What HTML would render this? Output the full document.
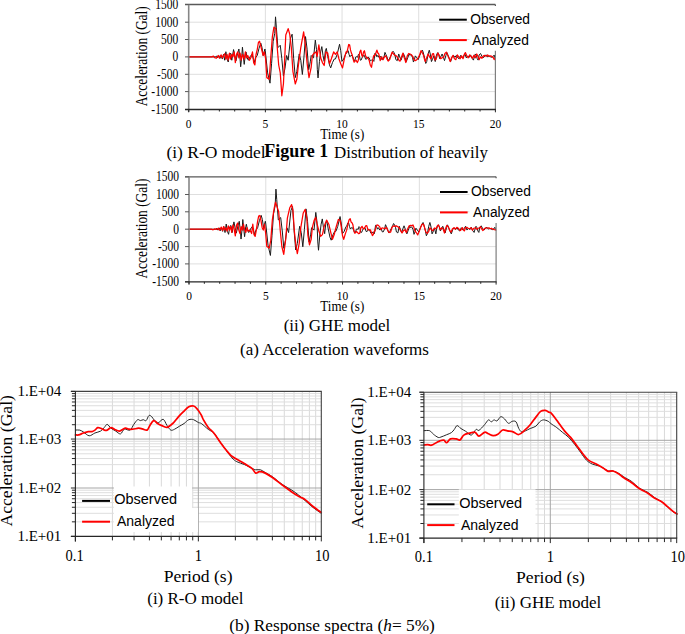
<!DOCTYPE html>
<html><head><meta charset="utf-8"><title>Figure</title>
<style>html,body{margin:0;padding:0;background:#fff;width:685px;height:634px;overflow:hidden}svg{display:block}</style>
</head><body>
<svg width="685" height="634" viewBox="0 0 685 634">
<rect width="685" height="634" fill="#fff"/>
<line x1="188.7" y1="22.2" x2="470" y2="22.2" stroke="#dedede" stroke-width="1" />
<line x1="188.7" y1="39.5" x2="470" y2="39.5" stroke="#dedede" stroke-width="1" />
<line x1="188.7" y1="56.9" x2="495.4" y2="56.9" stroke="#dedede" stroke-width="1" />
<line x1="188.7" y1="74.3" x2="495.4" y2="74.3" stroke="#dedede" stroke-width="1" />
<line x1="188.7" y1="91.6" x2="495.4" y2="91.6" stroke="#dedede" stroke-width="1" />
<line x1="265.38" y1="4.5" x2="265.38" y2="109.5" stroke="#dedede" stroke-width="1" />
<line x1="342.05" y1="4.5" x2="342.05" y2="109.5" stroke="#dedede" stroke-width="1" />
<line x1="418.72" y1="4.5" x2="418.72" y2="109.5" stroke="#dedede" stroke-width="1" />
<path d="M188.83,56.92 L215.22,56.92 L216.4,56.09 L217.59,57.87 L218.77,55.5 L219.95,58.46 L221.14,55.5 L222.32,59.05 L223.5,54.32 L224.69,60.24 L225.87,51.72 L227.05,59.05 L228.24,62.01 L229.42,54.32 L230.6,53.14 L231.79,60.24 L233.56,49.59 L234.75,55.5 L235.93,60.83 L237.7,53.14 L238.89,48.99 L240.07,59.05 L240.66,66.75 L241.85,55.5 L242.44,47.22 L243.62,59.05 L244.21,64.38 L245.4,54.32 L245.99,51.95 L247.17,57.87 L248.36,60.24 L250.13,56.69 L251.91,54.32 L253.09,57.87 L254.27,62.6 L255.46,57.87 L257.23,55.5 L259.01,48.4 L260.78,43.08 L261.96,47.22 L263.15,55.5 L264.92,48.99 L265.26,50.79 L267.63,72.9 L270,83.16 L271.58,63.42 L273.16,41.32 L274.74,33.42 L275.53,16.84 L276.32,27.11 L277.9,47.63 L280.26,45.27 L281.84,58.69 L283.42,76.06 L285,68.16 L286.58,55.53 L288.16,60.27 L290.53,38.16 L292.11,34.21 L293.69,58.69 L295.27,77.64 L296.84,71.32 L299.21,53.95 L300.79,60.27 L302.37,74.48 L303.95,57.11 L305.53,36.58 L307.11,49.21 L308.69,69.74 L310.27,61.85 L311.18,55.47 L312.36,56.66 L313.55,57.84 L315.32,40.1 L316.5,49.56 L317.33,69.66 L318.04,77.94 L319.46,61.39 L320.64,51.93 L321.82,46.61 L323.01,55.47 L324.19,61.39 L325.37,50.74 L326.32,48.38 L327.74,56.66 L329.51,64.93 L330.69,67.89 L332.47,62.57 L334.24,59.02 L335.42,59.02 L337.2,54.29 L339.56,44.24 L340.74,50.74 L341.93,61.39 L343.7,59.02 L345.47,54.29 L346.36,53.59 L347.25,50.74 L348.13,50.55 L349.02,54.29 L349.91,56.74 L350.79,55.47 L351.98,55.43 L353.16,57.84 L354.05,60.55 L354.93,60.2 L355.82,56.96 L356.71,56.66 L357.59,57.19 L358.48,54.29 L359.37,55.35 L360.25,60.2 L361.14,60.04 L362.03,57.84 L363.21,55.72 L364.39,55.47 L365.58,59.2 L366.76,59.02 L367.94,56.98 L369.12,57.84 L370.31,60.88 L371.49,60.2 L372.67,59.89 L373.85,61.39 L375,53.03 L375.95,53.98 L376.9,56.82 L377.85,55.4 L379.27,57.77 L380.69,56.35 L381.64,59.47 L382.59,59.67 L384.01,56.82 L384.96,52.36 L385.91,54.45 L386.86,56.82 L388.28,60.62 L389.23,59.19 L390.65,56.35 L392.08,53.5 L393.03,51.22 L393.98,52.55 L394.92,54.92 L395.87,59.67 L397.3,60.62 L398.72,53.98 L399.67,56.82 L401.09,60.14 L402.51,55.87 L403.46,53.5 L404.89,57.3 L406.31,61.57 L407.73,57.77 L409.16,53.98 L410.1,55.4 L411.05,54.45 L412.48,57.3 L413.43,62.04 L414.37,59.67 L415.32,55.87 L416.75,57.77 L418.17,59.67 L419.59,55.87 L421.02,52.55 L422.44,50.18 L423.39,53.03 L424.81,58.72 L425.76,63.46 L426.71,61.57 L428.13,53.98 L429.27,50.18 L430.5,54.92 L431.45,61.57 L432.4,59.67 L433.82,55.87 L435.25,61.57 L435.95,56.82 L436.9,53.98 L437.85,52.55 L438.8,54.92 L439.74,58.72 L440.69,56.82 L442.12,53.98 L443.54,57.77 L444.49,60.62 L445.91,55.4 L446.86,52.55 L448.28,55.87 L449.71,59.67 L450.65,61.57 L452.08,57.3 L453.5,55.4 L454.92,57.3 L456.35,55.4 L457.77,57.77 L459.19,58.72 L460.62,55.4 L462.04,57.77 L463.46,56.35 L464.89,53.98 L466.31,57.77 L467.73,55.87 L469.16,57.3 L470.58,54.92 L472,58.24 L473.43,60.14 L474.37,56.82 L475.32,53.98 L476.27,55.4 L477.22,58.72 L478.17,60.14 L479.12,54.92 L480.54,53.5 L481.96,56.35 L483.39,57.77 L484.81,55.87 L486.23,54.92 L487.66,56.82 L489.08,55.87 L490.5,56.82 L491.93,57.3 L493.35,56.35 L494.16,54.97 L494.96,57.77" fill="none" stroke="#1a1a1a" stroke-width="1.0" stroke-linejoin="round" stroke-linecap="round" />
<path d="M188.83,56.92 L211.67,56.92 L213.44,56.09 L214.63,57.63 L216.4,58.11 L218.18,55.5 L219.36,57.87 L221.14,54.91 L222.32,57.87 L223.5,55.5 L224.69,53.73 L225.87,59.05 L227.05,54.32 L228.24,60.24 L229.42,53.14 L230.6,59.05 L231.79,54.32 L232.97,56.69 L234.15,51.95 L235.34,62.6 L236.52,54.32 L237.7,51.95 L238.89,57.87 L240.07,53.14 L241.25,60.24 L242.44,54.32 L244.21,59.05 L245.4,51.95 L246.58,57.87 L247.76,55.5 L249.54,60.24 L251.31,56.69 L252.5,51.95 L253.68,62.6 L254.86,64.97 L256.05,54.32 L257.23,49.59 L258.41,42.49 L259.6,41.3 L260.78,46.04 L261.96,50.77 L263.15,55.5 L264.33,51.95 L265.51,57.87 L266.84,77.64 L269.21,79.21 L270.79,57.11 L272.37,36.58 L273.95,27.11 L275.84,28.69 L277.11,46.05 L278.69,65 L280.26,72.9 L281.84,95.79 L283.42,83.95 L285,52.37 L285.79,35 L288.16,28.69 L289.74,34.21 L291.32,47.63 L292.9,71.32 L295.27,83.95 L296.84,79.21 L298.42,65 L300.79,47.63 L303.63,31.84 L305.53,46.05 L307.11,63.42 L309,77.64 L311.18,67.3 L312.36,55.47 L314.14,53.11 L315.91,51.93 L317.09,56.66 L318.87,44.83 L320.64,57.84 L322.42,62.57 L324.19,65.52 L325.96,51.93 L327.74,53.11 L329.51,63.75 L331.28,59.02 L333.65,51.93 L335.42,54.29 L337.2,51.93 L338.97,59.02 L340.74,63.75 L342.52,67.89 L344.29,59.02 L346.06,51.93 L346.95,52.26 L347.84,48.38 L348.73,44.51 L349.61,44.83 L350.5,49.94 L351.39,53.11 L352.27,55.06 L353.16,59.02 L354.05,62.16 L354.93,61.39 L356.12,60.15 L357.3,62.57 L358.18,60.76 L359.07,55.47 L359.96,51.52 L360.85,50.15 L361.73,55.07 L362.62,56.66 L363.51,52.04 L364.39,50.74 L365.58,55.92 L366.76,57.84 L367.94,57.92 L369.12,60.2 L370.31,65.19 L371.49,67.3 L372.67,59.99 L373.85,55.47 L375.03,55.51 L376.22,51.93 L376.9,50.18 L377.85,53.03 L378.8,53.98 L380.22,60.62 L381.64,56.82 L383.06,59.67 L384.49,56.82 L385.91,55.87 L387.33,59.67 L388.28,61.09 L389.71,59.67 L391.13,54.92 L392.08,52.08 L393.5,53.98 L394.92,55.4 L396.35,55.87 L397.77,57.77 L399.19,60.62 L400.14,61.09 L401.57,56.82 L402.99,53.03 L403.94,56.82 L404.89,59.67 L405.83,62.51 L407.26,55.87 L408.68,53.5 L410.1,53.98 L411.53,54.92 L412.95,56.82 L413.9,59.67 L415.32,60.62 L416.75,59.67 L418.17,57.77 L419.59,54.92 L421.02,50.65 L421.96,52.08 L423.39,54.92 L424.34,58.72 L425.28,61.57 L426.71,57.77 L428.13,53.98 L429.55,56.82 L430.98,58.72 L432.4,53.98 L433.58,53.72 L434.77,59.87 L435.95,59.67 L436.9,56.35 L437.85,53.03 L439.27,55.4 L440.69,58.72 L442.12,57.77 L443.54,57.3 L444.96,53.5 L446.39,52.08 L447.81,55.4 L449.23,58.72 L450.18,61.57 L451.6,57.77 L453.03,55.4 L454.45,58.72 L455.87,59.67 L457.3,54.92 L458.72,56.82 L460.14,58.72 L461.57,55.87 L462.99,58.72 L464.41,53.98 L465.36,52.55 L466.78,55.87 L468.21,57.77 L469.63,54.92 L471.05,56.35 L472.48,58.24 L473.9,55.4 L475.32,57.77 L476.75,53.98 L478.17,56.82 L479.12,59.67 L480.54,56.82 L481.96,58.24 L483.39,55.87 L484.81,55.4 L486.23,56.35 L487.66,54.92 L489.08,56.35 L490.5,55.87 L491.93,56.35 L493.35,57.77 L494.16,59.59 L494.96,58.24" fill="none" stroke="#ff0000" stroke-width="1.25" stroke-linejoin="round" stroke-linecap="round" />
<rect x="469.5" y="5.5" width="70" height="45.5" fill="#fff"/>
<line x1="495.4" y1="50.8" x2="495.4" y2="109.5" stroke="#7f7f7f" stroke-width="1.2" />
<line x1="185" y1="4.5" x2="495.4" y2="4.5" stroke="#595959" stroke-width="1.3" />
<line x1="495.4" y1="4.5" x2="495.4" y2="6" stroke="#595959" stroke-width="1.2" />
<line x1="188.7" y1="4.5" x2="188.7" y2="112" stroke="#868686" stroke-width="1.6" />
<line x1="185" y1="4.5" x2="188.7" y2="4.5" stroke="#595959" stroke-width="1" />
<line x1="185" y1="22.2" x2="188.7" y2="22.2" stroke="#595959" stroke-width="1" />
<line x1="185" y1="39.5" x2="188.7" y2="39.5" stroke="#595959" stroke-width="1" />
<line x1="185" y1="56.9" x2="188.7" y2="56.9" stroke="#595959" stroke-width="1" />
<line x1="185" y1="74.3" x2="188.7" y2="74.3" stroke="#595959" stroke-width="1" />
<line x1="185" y1="91.6" x2="188.7" y2="91.6" stroke="#595959" stroke-width="1" />
<line x1="185" y1="109.5" x2="188.7" y2="109.5" stroke="#595959" stroke-width="1" />
<line x1="185" y1="109.5" x2="495.9" y2="109.5" stroke="#262626" stroke-width="1.3" />
<line x1="188.7" y1="109.5" x2="188.7" y2="112.3" stroke="#262626" stroke-width="1" />
<line x1="204.03" y1="109.5" x2="204.03" y2="111.5" stroke="#262626" stroke-width="1" />
<line x1="219.37" y1="109.5" x2="219.37" y2="111.5" stroke="#262626" stroke-width="1" />
<line x1="234.7" y1="109.5" x2="234.7" y2="111.5" stroke="#262626" stroke-width="1" />
<line x1="250.04" y1="109.5" x2="250.04" y2="111.5" stroke="#262626" stroke-width="1" />
<line x1="265.38" y1="109.5" x2="265.38" y2="112.3" stroke="#262626" stroke-width="1" />
<line x1="280.71" y1="109.5" x2="280.71" y2="111.5" stroke="#262626" stroke-width="1" />
<line x1="296.04" y1="109.5" x2="296.04" y2="111.5" stroke="#262626" stroke-width="1" />
<line x1="311.38" y1="109.5" x2="311.38" y2="111.5" stroke="#262626" stroke-width="1" />
<line x1="326.71" y1="109.5" x2="326.71" y2="111.5" stroke="#262626" stroke-width="1" />
<line x1="342.05" y1="109.5" x2="342.05" y2="112.3" stroke="#262626" stroke-width="1" />
<line x1="357.38" y1="109.5" x2="357.38" y2="111.5" stroke="#262626" stroke-width="1" />
<line x1="372.72" y1="109.5" x2="372.72" y2="111.5" stroke="#262626" stroke-width="1" />
<line x1="388.05" y1="109.5" x2="388.05" y2="111.5" stroke="#262626" stroke-width="1" />
<line x1="403.39" y1="109.5" x2="403.39" y2="111.5" stroke="#262626" stroke-width="1" />
<line x1="418.72" y1="109.5" x2="418.72" y2="112.3" stroke="#262626" stroke-width="1" />
<line x1="434.06" y1="109.5" x2="434.06" y2="111.5" stroke="#262626" stroke-width="1" />
<line x1="449.39" y1="109.5" x2="449.39" y2="111.5" stroke="#262626" stroke-width="1" />
<line x1="464.73" y1="109.5" x2="464.73" y2="111.5" stroke="#262626" stroke-width="1" />
<line x1="480.06" y1="109.5" x2="480.06" y2="111.5" stroke="#262626" stroke-width="1" />
<line x1="495.4" y1="109.5" x2="495.4" y2="112.3" stroke="#262626" stroke-width="1" />
<text x="0" y="0" font-family="'Liberation Serif', serif" font-size="11.5" text-anchor="end" font-weight="normal" transform="translate(178.2 8.8) scale(1 1.26)">1500</text>
<text x="0" y="0" font-family="'Liberation Serif', serif" font-size="11.5" text-anchor="end" font-weight="normal" transform="translate(178.2 26.5) scale(1 1.26)">1000</text>
<text x="0" y="0" font-family="'Liberation Serif', serif" font-size="11.5" text-anchor="end" font-weight="normal" transform="translate(178.2 43.8) scale(1 1.26)">500</text>
<text x="0" y="0" font-family="'Liberation Serif', serif" font-size="11.5" text-anchor="end" font-weight="normal" transform="translate(178.2 61.2) scale(1 1.26)">0</text>
<text x="0" y="0" font-family="'Liberation Serif', serif" font-size="11.5" text-anchor="end" font-weight="normal" transform="translate(178.2 78.6) scale(1 1.26)">-500</text>
<text x="0" y="0" font-family="'Liberation Serif', serif" font-size="11.5" text-anchor="end" font-weight="normal" transform="translate(178.2 95.9) scale(1 1.26)">-1000</text>
<text x="0" y="0" font-family="'Liberation Serif', serif" font-size="11.5" text-anchor="end" font-weight="normal" transform="translate(178.2 113.8) scale(1 1.26)">-1500</text>
<text x="0" y="0" font-family="'Liberation Serif', serif" font-size="11.5" text-anchor="middle" font-weight="normal" transform="translate(188.7 127.5) scale(1 1.17)">0</text>
<text x="0" y="0" font-family="'Liberation Serif', serif" font-size="11.5" text-anchor="middle" font-weight="normal" transform="translate(265.38 127.5) scale(1 1.17)">5</text>
<text x="0" y="0" font-family="'Liberation Serif', serif" font-size="11.5" text-anchor="middle" font-weight="normal" transform="translate(342.05 127.5) scale(1 1.17)">10</text>
<text x="0" y="0" font-family="'Liberation Serif', serif" font-size="11.5" text-anchor="middle" font-weight="normal" transform="translate(418.72 127.5) scale(1 1.17)">15</text>
<text x="0" y="0" font-family="'Liberation Serif', serif" font-size="11.5" text-anchor="middle" font-weight="normal" transform="translate(495.4 127.5) scale(1 1.17)">20</text>
<text x="0" y="0" font-family="'Liberation Serif', serif" font-size="13" text-anchor="middle" font-weight="normal" transform="translate(342.3 138.9) scale(1 1.08)">Time (s)</text>
<text x="0" y="0" font-family="'Liberation Serif', serif" font-size="13.4" text-anchor="middle" font-weight="normal" transform="translate(147.2 56.3) rotate(-90) scale(1 1.17)">Acceleration (Gal)</text>
<line x1="439.2" y1="19.7" x2="466.8" y2="19.7" stroke="#000" stroke-width="2" />
<line x1="439.2" y1="40.1" x2="466.8" y2="40.1" stroke="#ff0000" stroke-width="2" />
<text x="470.2" y="23.7" font-family="'Liberation Sans', sans-serif" font-size="13.8" text-anchor="start" font-weight="normal" >Observed</text>
<text x="472.2" y="44.8" font-family="'Liberation Sans', sans-serif" font-size="13.8" text-anchor="start" font-weight="normal" >Analyzed</text>
<line x1="189" y1="194.5" x2="470" y2="194.5" stroke="#dedede" stroke-width="1" />
<line x1="189" y1="211.8" x2="470" y2="211.8" stroke="#dedede" stroke-width="1" />
<line x1="189" y1="229.2" x2="496.1" y2="229.2" stroke="#dedede" stroke-width="1" />
<line x1="189" y1="246.6" x2="496.1" y2="246.6" stroke="#dedede" stroke-width="1" />
<line x1="189" y1="263.9" x2="496.1" y2="263.9" stroke="#dedede" stroke-width="1" />
<line x1="265.77" y1="176.8" x2="265.77" y2="281.8" stroke="#dedede" stroke-width="1" />
<line x1="342.55" y1="176.8" x2="342.55" y2="281.8" stroke="#dedede" stroke-width="1" />
<line x1="419.33" y1="176.8" x2="419.33" y2="281.8" stroke="#dedede" stroke-width="1" />
<path d="M189.13,229.22 L215.55,229.22 L216.74,228.39 L217.92,230.17 L219.11,227.8 L220.29,230.76 L221.48,227.8 L222.66,231.35 L223.85,226.62 L225.03,232.54 L226.22,224.02 L227.4,231.35 L228.59,234.31 L229.77,226.62 L230.96,225.44 L232.14,232.54 L233.92,221.89 L235.11,227.8 L236.29,233.13 L238.07,225.44 L239.25,221.29 L240.44,231.35 L241.03,239.05 L242.22,227.8 L242.81,219.52 L243.99,231.35 L244.59,236.68 L245.77,226.62 L246.36,224.25 L247.55,230.17 L248.73,232.54 L250.51,228.99 L252.29,226.62 L253.47,230.17 L254.66,234.9 L255.84,230.17 L257.62,227.8 L259.4,220.7 L261.18,215.38 L262.36,219.52 L263.55,227.8 L265.32,221.29 L265.66,223.09 L268.04,245.2 L270.41,255.46 L271.99,235.72 L273.57,213.62 L275.15,205.72 L275.94,189.14 L276.73,199.41 L278.31,219.93 L280.68,217.57 L282.26,230.99 L283.85,248.36 L285.43,240.46 L287.01,227.83 L288.59,232.57 L290.96,210.46 L292.54,206.51 L294.12,230.99 L295.7,249.94 L297.29,243.62 L299.66,226.25 L301.24,232.57 L302.82,246.78 L304.4,229.41 L305.98,208.88 L307.56,221.51 L309.14,242.04 L310.72,234.15 L311.64,227.77 L312.83,228.96 L314.01,230.14 L315.79,212.4 L316.97,221.86 L317.8,241.96 L318.51,250.24 L319.93,233.69 L321.11,224.23 L322.3,218.91 L323.48,227.77 L324.67,233.69 L325.85,223.04 L326.8,220.68 L328.22,228.96 L329.99,237.23 L331.18,240.19 L332.95,234.87 L334.73,231.32 L335.91,231.32 L337.69,226.59 L340.06,216.54 L341.24,223.04 L342.43,233.69 L344.2,231.32 L345.98,226.59 L346.87,225.89 L347.75,223.04 L348.64,222.85 L349.53,226.59 L350.42,229.04 L351.31,227.77 L352.49,227.73 L353.67,230.14 L354.56,232.85 L355.45,232.5 L356.34,229.26 L357.23,228.96 L358.11,229.49 L359,226.59 L359.89,227.65 L360.78,232.5 L361.67,232.34 L362.55,230.14 L363.74,228.02 L364.92,227.77 L366.11,231.5 L367.29,231.32 L368.47,229.28 L369.66,230.14 L370.84,233.18 L372.03,232.5 L373.21,232.19 L374.39,233.69 L375.54,225.33 L376.49,226.28 L377.44,229.12 L378.39,227.7 L379.82,230.07 L381.24,228.65 L382.19,231.77 L383.14,231.97 L384.57,229.12 L385.52,224.66 L386.47,226.75 L387.42,229.12 L388.84,232.92 L389.79,231.49 L391.22,228.65 L392.64,225.8 L393.59,223.52 L394.54,224.85 L395.49,227.22 L396.44,231.97 L397.87,232.92 L399.29,226.28 L400.24,229.12 L401.67,232.44 L403.09,228.17 L404.04,225.8 L405.47,229.6 L406.89,233.87 L408.32,230.07 L409.74,226.28 L410.69,227.7 L411.64,226.75 L413.07,229.6 L414.02,234.34 L414.97,231.97 L415.92,228.17 L417.34,230.07 L418.77,231.97 L420.19,228.17 L421.62,224.85 L423.04,222.48 L423.99,225.33 L425.42,231.02 L426.37,235.76 L427.32,233.87 L428.74,226.28 L429.88,222.48 L431.12,227.22 L432.07,233.87 L433.02,231.97 L434.44,228.17 L435.87,233.87 L436.57,229.12 L437.52,226.28 L438.47,224.85 L439.42,227.22 L440.37,231.02 L441.32,229.12 L442.75,226.28 L444.17,230.07 L445.12,232.92 L446.55,227.7 L447.5,224.85 L448.92,228.17 L450.35,231.97 L451.3,233.87 L452.72,229.6 L454.15,227.7 L455.57,229.6 L457,227.7 L458.42,230.07 L459.85,231.02 L461.27,227.7 L462.7,230.07 L464.12,228.65 L465.55,226.28 L466.97,230.07 L468.4,228.17 L469.82,229.6 L471.25,227.22 L472.67,230.54 L474.1,232.44 L475.05,229.12 L476,226.28 L476.95,227.7 L477.9,231.02 L478.85,232.44 L479.8,227.22 L481.22,225.8 L482.65,228.65 L484.07,230.07 L485.5,228.17 L486.92,227.22 L488.35,229.12 L489.77,228.17 L491.2,229.12 L492.62,229.6 L494.05,228.65 L494.85,227.27 L495.66,230.07" fill="none" stroke="#1a1a1a" stroke-width="1.0" stroke-linejoin="round" stroke-linecap="round" />
<path d="M189.05,229.1 L211.36,229.1 L213.11,229.8 L214.86,228.87 L216.61,229.45 L218.36,228.28 L219.53,230.04 L221.28,227.12 L222.45,230.62 L223.62,226.53 L224.79,230.04 L225.96,227.7 L227.12,231.2 L228.29,225.95 L229.46,230.04 L230.63,226.53 L231.8,232.37 L232.96,224.78 L234.13,228.87 L235.3,235.88 L236.47,225.36 L237.64,223.03 L238.8,230.04 L239.97,233.54 L241.14,226.53 L242.31,230.04 L243.47,224.2 L244.64,230.04 L245.81,232.37 L246.98,227.7 L248.15,231.2 L249.9,230.04 L251.65,233.54 L252.82,224.2 L253.99,234.71 L255.15,236.46 L256.32,230.04 L257.49,221.86 L258.66,216.02 L259.82,215.44 L260.99,220.69 L262.16,227.7 L263.33,230.04 L264.5,224.2 L265.66,233.54 L266.83,246.39 L269.21,248.06 L270.79,240.16 L272.37,219.63 L274.26,207.79 L275.53,202.26 L277.11,207 L278.69,211.74 L280.26,230.69 L281.84,246.48 L283.74,254.37 L285.79,238.58 L287.37,218.05 L289.74,207.79 L291.63,204.63 L292.9,210.16 L294.48,232.27 L296.05,246.48 L297.32,253.58 L299.21,243.32 L300.79,227.53 L303.16,213.32 L305.21,209.37 L306.79,218.05 L307.9,235.42 L309.48,244.9 L311.18,239.3 L312.36,227.47 L314.14,220.38 L315.68,217.42 L317.09,223.93 L318.87,231.02 L320.64,236.34 L322.42,234.57 L324.19,226.29 L326.55,220.14 L328.92,224.52 L330.69,232.2 L332.47,239.3 L334.24,234.57 L336.01,227.47 L338.38,219.43 L340.15,220.38 L341.33,227.47 L342.52,235.75 L343.7,239.3 L345.47,233.39 L346.66,230.15 L347.84,224.52 L349.02,219.98 L350.2,218.61 L351.09,222.04 L351.98,222.74 L352.86,224.63 L353.75,229.84 L354.64,233 L355.52,232.79 L356.41,231.52 L357.3,232.2 L358.48,233.71 L359.66,233.39 L360.85,227.88 L362.03,226.29 L363.21,228.7 L364.39,228.66 L365.58,225.98 L366.76,225.7 L367.94,229.92 L369.12,229.84 L370.31,229.82 L371.49,232.79 L372.37,235.64 L373.26,234.57 L374.15,231.29 L375.03,231.02 L375.95,226.82 L376.9,224.92 L378.32,225.4 L379.74,226.82 L380.69,229.67 L382.12,227.77 L383.54,228.24 L384.96,228.72 L386.39,227.3 L387.81,230.62 L389.23,232.51 L390.65,232.04 L392.08,227.3 L393.5,225.87 L394.92,226.35 L396.35,225.87 L397.77,226.82 L399.19,227.77 L400.62,230.62 L402.04,232.99 L403.46,230.62 L404.89,229.67 L406.31,232.51 L407.73,228.72 L409.16,225.87 L410.58,225.4 L412,225.68 L412.95,224.92 L413.9,227.3 L414.85,230.62 L416.27,232.51 L417.69,234.89 L419.12,231.57 L420.54,227.77 L421.96,224.45 L423.39,223.98 L424.34,226.82 L425.76,231.57 L427.18,233.46 L428.61,231.57 L430.03,227.77 L431.45,229.67 L432.87,230.62 L434.41,227.96 L435.95,228.72 L437.37,225.87 L438.32,224.92 L439.27,226.82 L440.22,229.67 L441.64,227.77 L443.06,228.72 L444.49,232.99 L445.91,227.77 L446.86,225.4 L448.28,226.82 L449.71,230.62 L451.13,232.04 L452.55,228.72 L453.98,227.77 L455.4,229.19 L456.82,227.3 L458.24,228.24 L459.67,230.14 L460.62,230.52 L461.57,228.72 L462.51,227.73 L463.46,230.14 L464.41,230.95 L465.36,227.77 L466.78,227.3 L468.21,228.24 L469.63,228.72 L471.05,227.77 L472.48,230.14 L473.9,228.24 L475.32,227.77 L476.75,229.19 L478.17,228.24 L479.59,227.77 L480.54,226.69 L481.49,228.72 L482.91,230.62 L484.34,228.72 L485.76,227.77 L487.18,228.24 L488.61,227.77 L490.03,228.72 L491.45,228.24 L492.87,229.19 L494.3,229.67 L495.72,229.86" fill="none" stroke="#ff0000" stroke-width="1.25" stroke-linejoin="round" stroke-linecap="round" />
<rect x="469.5" y="177.8" width="70" height="45.5" fill="#fff"/>
<line x1="496.1" y1="223.1" x2="496.1" y2="281.8" stroke="#7f7f7f" stroke-width="1.2" />
<line x1="185" y1="176.8" x2="496.1" y2="176.8" stroke="#595959" stroke-width="1.3" />
<line x1="496.1" y1="176.8" x2="496.1" y2="178.3" stroke="#595959" stroke-width="1.2" />
<line x1="189" y1="176.8" x2="189" y2="284.3" stroke="#868686" stroke-width="1.6" />
<line x1="185" y1="176.8" x2="189" y2="176.8" stroke="#595959" stroke-width="1" />
<line x1="185" y1="194.5" x2="189" y2="194.5" stroke="#595959" stroke-width="1" />
<line x1="185" y1="211.8" x2="189" y2="211.8" stroke="#595959" stroke-width="1" />
<line x1="185" y1="229.2" x2="189" y2="229.2" stroke="#595959" stroke-width="1" />
<line x1="185" y1="246.6" x2="189" y2="246.6" stroke="#595959" stroke-width="1" />
<line x1="185" y1="263.9" x2="189" y2="263.9" stroke="#595959" stroke-width="1" />
<line x1="185" y1="281.8" x2="189" y2="281.8" stroke="#595959" stroke-width="1" />
<line x1="185" y1="281.8" x2="496.6" y2="281.8" stroke="#262626" stroke-width="1.3" />
<line x1="189" y1="281.8" x2="189" y2="284.6" stroke="#262626" stroke-width="1" />
<line x1="204.35" y1="281.8" x2="204.35" y2="283.8" stroke="#262626" stroke-width="1" />
<line x1="219.71" y1="281.8" x2="219.71" y2="283.8" stroke="#262626" stroke-width="1" />
<line x1="235.06" y1="281.8" x2="235.06" y2="283.8" stroke="#262626" stroke-width="1" />
<line x1="250.42" y1="281.8" x2="250.42" y2="283.8" stroke="#262626" stroke-width="1" />
<line x1="265.77" y1="281.8" x2="265.77" y2="284.6" stroke="#262626" stroke-width="1" />
<line x1="281.13" y1="281.8" x2="281.13" y2="283.8" stroke="#262626" stroke-width="1" />
<line x1="296.49" y1="281.8" x2="296.49" y2="283.8" stroke="#262626" stroke-width="1" />
<line x1="311.84" y1="281.8" x2="311.84" y2="283.8" stroke="#262626" stroke-width="1" />
<line x1="327.19" y1="281.8" x2="327.19" y2="283.8" stroke="#262626" stroke-width="1" />
<line x1="342.55" y1="281.8" x2="342.55" y2="284.6" stroke="#262626" stroke-width="1" />
<line x1="357.9" y1="281.8" x2="357.9" y2="283.8" stroke="#262626" stroke-width="1" />
<line x1="373.26" y1="281.8" x2="373.26" y2="283.8" stroke="#262626" stroke-width="1" />
<line x1="388.62" y1="281.8" x2="388.62" y2="283.8" stroke="#262626" stroke-width="1" />
<line x1="403.97" y1="281.8" x2="403.97" y2="283.8" stroke="#262626" stroke-width="1" />
<line x1="419.33" y1="281.8" x2="419.33" y2="284.6" stroke="#262626" stroke-width="1" />
<line x1="434.68" y1="281.8" x2="434.68" y2="283.8" stroke="#262626" stroke-width="1" />
<line x1="450.04" y1="281.8" x2="450.04" y2="283.8" stroke="#262626" stroke-width="1" />
<line x1="465.39" y1="281.8" x2="465.39" y2="283.8" stroke="#262626" stroke-width="1" />
<line x1="480.75" y1="281.8" x2="480.75" y2="283.8" stroke="#262626" stroke-width="1" />
<line x1="496.1" y1="281.8" x2="496.1" y2="284.6" stroke="#262626" stroke-width="1" />
<text x="0" y="0" font-family="'Liberation Serif', serif" font-size="11.5" text-anchor="end" font-weight="normal" transform="translate(179 181.1) scale(1 1.26)">1500</text>
<text x="0" y="0" font-family="'Liberation Serif', serif" font-size="11.5" text-anchor="end" font-weight="normal" transform="translate(179 198.8) scale(1 1.26)">1000</text>
<text x="0" y="0" font-family="'Liberation Serif', serif" font-size="11.5" text-anchor="end" font-weight="normal" transform="translate(179 216.1) scale(1 1.26)">500</text>
<text x="0" y="0" font-family="'Liberation Serif', serif" font-size="11.5" text-anchor="end" font-weight="normal" transform="translate(179 233.5) scale(1 1.26)">0</text>
<text x="0" y="0" font-family="'Liberation Serif', serif" font-size="11.5" text-anchor="end" font-weight="normal" transform="translate(179 250.9) scale(1 1.26)">-500</text>
<text x="0" y="0" font-family="'Liberation Serif', serif" font-size="11.5" text-anchor="end" font-weight="normal" transform="translate(179 268.2) scale(1 1.26)">-1000</text>
<text x="0" y="0" font-family="'Liberation Serif', serif" font-size="11.5" text-anchor="end" font-weight="normal" transform="translate(179 286.1) scale(1 1.26)">-1500</text>
<text x="0" y="0" font-family="'Liberation Serif', serif" font-size="11.5" text-anchor="middle" font-weight="normal" transform="translate(189 299.8) scale(1 1.17)">0</text>
<text x="0" y="0" font-family="'Liberation Serif', serif" font-size="11.5" text-anchor="middle" font-weight="normal" transform="translate(265.77 299.8) scale(1 1.17)">5</text>
<text x="0" y="0" font-family="'Liberation Serif', serif" font-size="11.5" text-anchor="middle" font-weight="normal" transform="translate(342.55 299.8) scale(1 1.17)">10</text>
<text x="0" y="0" font-family="'Liberation Serif', serif" font-size="11.5" text-anchor="middle" font-weight="normal" transform="translate(419.33 299.8) scale(1 1.17)">15</text>
<text x="0" y="0" font-family="'Liberation Serif', serif" font-size="11.5" text-anchor="middle" font-weight="normal" transform="translate(496.1 299.8) scale(1 1.17)">20</text>
<text x="0" y="0" font-family="'Liberation Serif', serif" font-size="13" text-anchor="middle" font-weight="normal" transform="translate(342.3 311.2) scale(1 1.08)">Time (s)</text>
<text x="0" y="0" font-family="'Liberation Serif', serif" font-size="13.4" text-anchor="middle" font-weight="normal" transform="translate(147.2 228.6) rotate(-90) scale(1 1.17)">Acceleration (Gal)</text>
<line x1="440" y1="192" x2="467.6" y2="192" stroke="#000" stroke-width="2" />
<line x1="440" y1="212.4" x2="467.6" y2="212.4" stroke="#ff0000" stroke-width="2" />
<text x="471" y="196" font-family="'Liberation Sans', sans-serif" font-size="13.8" text-anchor="start" font-weight="normal" >Observed</text>
<text x="473" y="217.1" font-family="'Liberation Sans', sans-serif" font-size="13.8" text-anchor="start" font-weight="normal" >Analyzed</text>
<text x="166.4" y="157.6" font-family="'Liberation Serif', serif" font-size="17.5" text-anchor="start" font-weight="normal" >(i) R-O model</text>
<text x="264.2" y="156.8" font-family="'Liberation Serif', serif" font-size="18" text-anchor="start" font-weight="bold" >Figure 1</text>
<text x="334" y="157.6" font-family="'Liberation Serif', serif" font-size="16.9" text-anchor="start" font-weight="normal" >Distribution of heavily</text>
<text x="337" y="331.4" font-family="'Liberation Serif', serif" font-size="17" text-anchor="middle" font-weight="normal" >(ii) GHE model</text>
<text x="334.5" y="354.5" font-family="'Liberation Serif', serif" font-size="17" text-anchor="middle" font-weight="normal" >(a) Acceleration waveforms</text>
<line x1="112.41" y1="391.4" x2="112.41" y2="536.4" stroke="#d9d9d9" stroke-width="1" />
<line x1="134.06" y1="391.4" x2="134.06" y2="536.4" stroke="#d9d9d9" stroke-width="1" />
<line x1="149.42" y1="391.4" x2="149.42" y2="536.4" stroke="#d9d9d9" stroke-width="1" />
<line x1="161.34" y1="391.4" x2="161.34" y2="536.4" stroke="#d9d9d9" stroke-width="1" />
<line x1="171.07" y1="391.4" x2="171.07" y2="536.4" stroke="#d9d9d9" stroke-width="1" />
<line x1="179.3" y1="391.4" x2="179.3" y2="536.4" stroke="#d9d9d9" stroke-width="1" />
<line x1="186.43" y1="391.4" x2="186.43" y2="536.4" stroke="#d9d9d9" stroke-width="1" />
<line x1="192.72" y1="391.4" x2="192.72" y2="536.4" stroke="#d9d9d9" stroke-width="1" />
<line x1="235.36" y1="391.4" x2="235.36" y2="536.4" stroke="#d9d9d9" stroke-width="1" />
<line x1="257.01" y1="391.4" x2="257.01" y2="536.4" stroke="#d9d9d9" stroke-width="1" />
<line x1="272.37" y1="391.4" x2="272.37" y2="536.4" stroke="#d9d9d9" stroke-width="1" />
<line x1="284.29" y1="391.4" x2="284.29" y2="536.4" stroke="#d9d9d9" stroke-width="1" />
<line x1="294.02" y1="391.4" x2="294.02" y2="536.4" stroke="#d9d9d9" stroke-width="1" />
<line x1="302.25" y1="391.4" x2="302.25" y2="536.4" stroke="#d9d9d9" stroke-width="1" />
<line x1="309.38" y1="391.4" x2="309.38" y2="536.4" stroke="#d9d9d9" stroke-width="1" />
<line x1="315.67" y1="391.4" x2="315.67" y2="536.4" stroke="#d9d9d9" stroke-width="1" />
<line x1="75.4" y1="521.83" x2="321.3" y2="521.83" stroke="#dedede" stroke-width="1" />
<line x1="75.4" y1="513.31" x2="321.3" y2="513.31" stroke="#dedede" stroke-width="1" />
<line x1="75.4" y1="507.26" x2="321.3" y2="507.26" stroke="#dedede" stroke-width="1" />
<line x1="75.4" y1="502.57" x2="321.3" y2="502.57" stroke="#dedede" stroke-width="1" />
<line x1="75.4" y1="498.74" x2="321.3" y2="498.74" stroke="#dedede" stroke-width="1" />
<line x1="75.4" y1="495.5" x2="321.3" y2="495.5" stroke="#dedede" stroke-width="1" />
<line x1="75.4" y1="492.69" x2="321.3" y2="492.69" stroke="#dedede" stroke-width="1" />
<line x1="75.4" y1="490.21" x2="321.3" y2="490.21" stroke="#dedede" stroke-width="1" />
<line x1="75.4" y1="473.26" x2="321.3" y2="473.26" stroke="#dedede" stroke-width="1" />
<line x1="75.4" y1="464.64" x2="321.3" y2="464.64" stroke="#dedede" stroke-width="1" />
<line x1="75.4" y1="458.53" x2="321.3" y2="458.53" stroke="#dedede" stroke-width="1" />
<line x1="75.4" y1="453.79" x2="321.3" y2="453.79" stroke="#dedede" stroke-width="1" />
<line x1="75.4" y1="449.91" x2="321.3" y2="449.91" stroke="#dedede" stroke-width="1" />
<line x1="75.4" y1="446.63" x2="321.3" y2="446.63" stroke="#dedede" stroke-width="1" />
<line x1="75.4" y1="443.79" x2="321.3" y2="443.79" stroke="#dedede" stroke-width="1" />
<line x1="75.4" y1="441.29" x2="321.3" y2="441.29" stroke="#dedede" stroke-width="1" />
<line x1="75.4" y1="424.71" x2="321.3" y2="424.71" stroke="#dedede" stroke-width="1" />
<line x1="75.4" y1="416.32" x2="321.3" y2="416.32" stroke="#dedede" stroke-width="1" />
<line x1="75.4" y1="410.36" x2="321.3" y2="410.36" stroke="#dedede" stroke-width="1" />
<line x1="75.4" y1="405.74" x2="321.3" y2="405.74" stroke="#dedede" stroke-width="1" />
<line x1="75.4" y1="401.97" x2="321.3" y2="401.97" stroke="#dedede" stroke-width="1" />
<line x1="75.4" y1="398.78" x2="321.3" y2="398.78" stroke="#dedede" stroke-width="1" />
<line x1="75.4" y1="396.02" x2="321.3" y2="396.02" stroke="#dedede" stroke-width="1" />
<line x1="75.4" y1="393.58" x2="321.3" y2="393.58" stroke="#dedede" stroke-width="1" />
<line x1="198.35" y1="391.4" x2="198.35" y2="536.4" stroke="#a6a6a6" stroke-width="1" />
<line x1="75.4" y1="439.05" x2="321.3" y2="439.05" stroke="#a6a6a6" stroke-width="1" />
<line x1="75.4" y1="488" x2="321.3" y2="488" stroke="#a6a6a6" stroke-width="1" />
<rect x="113.9" y="486.5" width="78.2" height="45.5" fill="#fff"/>
<rect x="191.6" y="508" width="6.4" height="24" fill="#fff"/>
<path d="M75.5,430.1 C76.2,430.1 78.37,429.78 79.7,430.1 C81.03,430.42 81.92,431.05 83.5,432 C85.08,432.95 87.3,435.63 89.2,435.8 C91.1,435.97 93,433.78 94.9,433 C96.8,432.22 99.02,432.05 100.6,431.1 C102.18,430.15 103.3,428.42 104.4,427.3 C105.5,426.18 106.1,424.25 107.2,424.4 C108.3,424.55 109.57,427.08 111,428.2 C112.43,429.32 114.22,430.15 115.8,431.1 C117.38,432.05 119.08,434.22 120.5,433.9 C121.92,433.58 122.72,429.83 124.3,429.2 C125.88,428.57 128.42,430.9 130,430.1 C131.58,429.3 132.53,426.13 133.8,424.4 C135.07,422.67 136.5,420.33 137.6,419.7 C138.7,419.07 139.45,420.6 140.4,420.6 C141.35,420.6 142.35,419.7 143.3,419.7 C144.25,419.7 145.15,421.3 146.1,420.6 C147.05,419.9 148.05,416.13 149,415.5 C149.95,414.87 150.85,415.95 151.8,416.8 C152.75,417.65 153.58,419.65 154.7,420.6 C155.82,421.55 157.08,422.72 158.5,422.5 C159.92,422.28 161.78,418.82 163.2,419.3 C164.62,419.78 165.73,423.6 167,425.4 C168.27,427.2 169.53,429.47 170.8,430.1 C172.07,430.73 173.18,429.83 174.6,429.2 C176.02,428.57 177.72,427.25 179.3,426.3 C180.88,425.35 182.52,424.6 184.1,423.5 C185.68,422.4 187.22,420.33 188.8,419.7 C190.38,419.07 192.02,419.23 193.6,419.7 C195.18,420.17 196.97,421.83 198.3,422.5 C199.63,423.17 199.93,422.55 201.6,423.7 C203.27,424.85 206.23,427.82 208.3,429.4 C210.37,430.98 211.95,430.98 214,433.2 C216.05,435.42 218.55,439.85 220.6,442.7 C222.65,445.55 224.4,447.77 226.3,450.3 C228.2,452.83 230.25,456 232,457.9 C233.75,459.8 234.75,460.6 236.8,461.7 C238.85,462.8 241.78,463.4 244.3,464.5 C246.82,465.6 250,467.42 251.9,468.3 C253.8,469.18 254.27,469.55 255.7,469.8 C257.13,470.05 258.92,469.35 260.5,469.8 C262.08,470.25 263.15,471.3 265.2,472.5 C267.25,473.7 269.95,475 272.8,477 C275.65,479 279.13,482.32 282.3,484.5 C285.47,486.68 289.12,488.37 291.8,490.1 C294.48,491.83 296.18,493.15 298.4,494.9 C300.62,496.65 302.72,498.55 305.1,500.6 C307.48,502.65 310.02,505.08 312.7,507.2 C315.38,509.32 319.78,512.28 321.2,513.3" fill="none" stroke="#262626" stroke-width="1.0" stroke-linejoin="round" stroke-linecap="round" />
<path d="M75.5,434.9 C76.03,434.9 77.37,435.22 78.7,434.9 C80.03,434.58 81.92,433.55 83.5,433 C85.08,432.45 86.78,431.83 88.2,431.6 C89.62,431.37 90.88,431.85 92,431.6 C93.12,431.35 93.95,430.77 94.9,430.1 C95.85,429.43 96.75,427.92 97.7,427.6 C98.65,427.28 99.48,427.78 100.6,428.2 C101.72,428.62 103.3,429.78 104.4,430.1 C105.5,430.42 106.1,430.52 107.2,430.1 C108.3,429.68 109.73,427.7 111,427.6 C112.27,427.5 113.38,428.92 114.8,429.5 C116.22,430.08 117.77,431.32 119.5,431.1 C121.23,430.88 123.62,428.52 125.2,428.2 C126.78,427.88 127.73,429.03 129,429.2 C130.27,429.37 131.22,429.37 132.8,429.2 C134.38,429.03 136.92,428.27 138.5,428.2 C140.08,428.13 140.87,428.48 142.3,428.8 C143.73,429.12 145.83,430.67 147.1,430.1 C148.37,429.53 148.8,426.98 149.9,425.4 C151,423.82 152.43,420.92 153.7,420.6 C154.97,420.28 156.23,422.7 157.5,423.5 C158.77,424.3 159.72,424.77 161.3,425.4 C162.88,426.03 165.1,427.62 167,427.3 C168.9,426.98 170.8,425.25 172.7,423.5 C174.6,421.75 176.5,418.87 178.4,416.8 C180.3,414.73 182.37,412.77 184.1,411.1 C185.83,409.43 187.22,407.65 188.8,406.8 C190.38,405.95 192.17,405.6 193.6,406 C195.03,406.4 196.13,407.72 197.4,409.2 C198.67,410.68 200.18,413.12 201.2,414.9 C202.22,416.68 202.32,417.8 203.5,419.9 C204.68,422 206.55,425.28 208.3,427.5 C210.05,429.72 211.95,430.67 214,433.2 C216.05,435.73 218.55,439.85 220.6,442.7 C222.65,445.55 224.55,448.15 226.3,450.3 C228.05,452.45 229.35,454.12 231.1,455.6 C232.85,457.08 234.6,457.87 236.8,459.2 C239,460.53 241.78,462.08 244.3,463.6 C246.82,465.12 250,466.72 251.9,468.3 C253.8,469.88 254.43,472.53 255.7,473.1 C256.97,473.67 257.92,471.7 259.5,471.7 C261.08,471.7 262.98,472.08 265.2,473.1 C267.42,474.12 269.95,475.82 272.8,477.8 C275.65,479.78 279.13,482.63 282.3,485 C285.47,487.37 288.95,490.03 291.8,492 C294.65,493.97 297.18,495.53 299.4,496.8 C301.62,498.07 302.88,498.02 305.1,499.6 C307.32,501.18 310.02,504.17 312.7,506.3 C315.38,508.43 319.78,511.38 321.2,512.4" fill="none" stroke="#ff0000" stroke-width="1.75" stroke-linejoin="round" stroke-linecap="round" />
<line x1="70.9" y1="391.4" x2="321.8" y2="391.4" stroke="#404040" stroke-width="1.1" />
<line x1="321.3" y1="391.4" x2="321.3" y2="536.4" stroke="#404040" stroke-width="1.1" />
<line x1="75.4" y1="391.4" x2="75.4" y2="541.4" stroke="#262626" stroke-width="1.1" />
<line x1="70.9" y1="536.4" x2="321.8" y2="536.4" stroke="#262626" stroke-width="1.3" />
<line x1="70.9" y1="536.4" x2="75.4" y2="536.4" stroke="#262626" stroke-width="1" />
<line x1="70.9" y1="488" x2="75.4" y2="488" stroke="#262626" stroke-width="1" />
<line x1="70.9" y1="439.05" x2="75.4" y2="439.05" stroke="#262626" stroke-width="1" />
<line x1="70.9" y1="391.4" x2="75.4" y2="391.4" stroke="#262626" stroke-width="1" />
<line x1="71.9" y1="521.83" x2="75.4" y2="521.83" stroke="#262626" stroke-width="1" />
<line x1="71.9" y1="513.31" x2="75.4" y2="513.31" stroke="#262626" stroke-width="1" />
<line x1="71.9" y1="507.26" x2="75.4" y2="507.26" stroke="#262626" stroke-width="1" />
<line x1="71.9" y1="502.57" x2="75.4" y2="502.57" stroke="#262626" stroke-width="1" />
<line x1="71.9" y1="498.74" x2="75.4" y2="498.74" stroke="#262626" stroke-width="1" />
<line x1="71.9" y1="495.5" x2="75.4" y2="495.5" stroke="#262626" stroke-width="1" />
<line x1="71.9" y1="492.69" x2="75.4" y2="492.69" stroke="#262626" stroke-width="1" />
<line x1="71.9" y1="490.21" x2="75.4" y2="490.21" stroke="#262626" stroke-width="1" />
<line x1="71.9" y1="473.26" x2="75.4" y2="473.26" stroke="#262626" stroke-width="1" />
<line x1="71.9" y1="464.64" x2="75.4" y2="464.64" stroke="#262626" stroke-width="1" />
<line x1="71.9" y1="458.53" x2="75.4" y2="458.53" stroke="#262626" stroke-width="1" />
<line x1="71.9" y1="453.79" x2="75.4" y2="453.79" stroke="#262626" stroke-width="1" />
<line x1="71.9" y1="449.91" x2="75.4" y2="449.91" stroke="#262626" stroke-width="1" />
<line x1="71.9" y1="446.63" x2="75.4" y2="446.63" stroke="#262626" stroke-width="1" />
<line x1="71.9" y1="443.79" x2="75.4" y2="443.79" stroke="#262626" stroke-width="1" />
<line x1="71.9" y1="441.29" x2="75.4" y2="441.29" stroke="#262626" stroke-width="1" />
<line x1="71.9" y1="424.71" x2="75.4" y2="424.71" stroke="#262626" stroke-width="1" />
<line x1="71.9" y1="416.32" x2="75.4" y2="416.32" stroke="#262626" stroke-width="1" />
<line x1="71.9" y1="410.36" x2="75.4" y2="410.36" stroke="#262626" stroke-width="1" />
<line x1="71.9" y1="405.74" x2="75.4" y2="405.74" stroke="#262626" stroke-width="1" />
<line x1="71.9" y1="401.97" x2="75.4" y2="401.97" stroke="#262626" stroke-width="1" />
<line x1="71.9" y1="398.78" x2="75.4" y2="398.78" stroke="#262626" stroke-width="1" />
<line x1="71.9" y1="396.02" x2="75.4" y2="396.02" stroke="#262626" stroke-width="1" />
<line x1="71.9" y1="393.58" x2="75.4" y2="393.58" stroke="#262626" stroke-width="1" />
<line x1="75.4" y1="536.4" x2="75.4" y2="541.4" stroke="#262626" stroke-width="1" />
<line x1="112.41" y1="536.4" x2="112.41" y2="540.4" stroke="#262626" stroke-width="1" />
<line x1="134.06" y1="536.4" x2="134.06" y2="540.4" stroke="#262626" stroke-width="1" />
<line x1="149.42" y1="536.4" x2="149.42" y2="540.4" stroke="#262626" stroke-width="1" />
<line x1="161.34" y1="536.4" x2="161.34" y2="540.4" stroke="#262626" stroke-width="1" />
<line x1="171.07" y1="536.4" x2="171.07" y2="540.4" stroke="#262626" stroke-width="1" />
<line x1="179.3" y1="536.4" x2="179.3" y2="540.4" stroke="#262626" stroke-width="1" />
<line x1="186.43" y1="536.4" x2="186.43" y2="540.4" stroke="#262626" stroke-width="1" />
<line x1="192.72" y1="536.4" x2="192.72" y2="540.4" stroke="#262626" stroke-width="1" />
<line x1="198.35" y1="536.4" x2="198.35" y2="541.4" stroke="#262626" stroke-width="1" />
<line x1="235.36" y1="536.4" x2="235.36" y2="540.4" stroke="#262626" stroke-width="1" />
<line x1="257.01" y1="536.4" x2="257.01" y2="540.4" stroke="#262626" stroke-width="1" />
<line x1="272.37" y1="536.4" x2="272.37" y2="540.4" stroke="#262626" stroke-width="1" />
<line x1="284.29" y1="536.4" x2="284.29" y2="540.4" stroke="#262626" stroke-width="1" />
<line x1="294.02" y1="536.4" x2="294.02" y2="540.4" stroke="#262626" stroke-width="1" />
<line x1="302.25" y1="536.4" x2="302.25" y2="540.4" stroke="#262626" stroke-width="1" />
<line x1="309.38" y1="536.4" x2="309.38" y2="540.4" stroke="#262626" stroke-width="1" />
<line x1="315.67" y1="536.4" x2="315.67" y2="540.4" stroke="#262626" stroke-width="1" />
<line x1="321.3" y1="536.4" x2="321.3" y2="541.4" stroke="#262626" stroke-width="1" />
<line x1="82.1" y1="500.9" x2="110" y2="500.9" stroke="#000" stroke-width="2" />
<line x1="82.1" y1="521.7" x2="110" y2="521.7" stroke="#ff0000" stroke-width="2" />
<text x="114.2" y="503.7" font-family="'Liberation Sans', sans-serif" font-size="14.5" text-anchor="start" font-weight="normal" >Observed</text>
<text x="117" y="525.8" font-family="'Liberation Sans', sans-serif" font-size="14" text-anchor="start" font-weight="normal" >Analyzed</text>
<text x="61.3" y="396.4" font-family="'Liberation Serif', serif" font-size="15" text-anchor="end" font-weight="normal" >1.E+04</text>
<text x="61.3" y="444.05" font-family="'Liberation Serif', serif" font-size="15" text-anchor="end" font-weight="normal" >1.E+03</text>
<text x="61.3" y="493" font-family="'Liberation Serif', serif" font-size="15" text-anchor="end" font-weight="normal" >1.E+02</text>
<text x="61.3" y="541.4" font-family="'Liberation Serif', serif" font-size="15" text-anchor="end" font-weight="normal" >1.E+01</text>
<text x="0" y="0" font-family="'Liberation Serif', serif" font-size="14.5" text-anchor="middle" font-weight="normal" transform="translate(74.6 561.3) scale(1 1.13)">0.1</text>
<text x="0" y="0" font-family="'Liberation Serif', serif" font-size="14.5" text-anchor="middle" font-weight="normal" transform="translate(198.35 561.3) scale(1 1.13)">1</text>
<text x="0" y="0" font-family="'Liberation Serif', serif" font-size="14.5" text-anchor="middle" font-weight="normal" transform="translate(322.3 561.3) scale(1 1.13)">10</text>
<line x1="461.95" y1="392.2" x2="461.95" y2="538.1" stroke="#d9d9d9" stroke-width="1" />
<line x1="484.21" y1="392.2" x2="484.21" y2="538.1" stroke="#d9d9d9" stroke-width="1" />
<line x1="500" y1="392.2" x2="500" y2="538.1" stroke="#d9d9d9" stroke-width="1" />
<line x1="512.25" y1="392.2" x2="512.25" y2="538.1" stroke="#d9d9d9" stroke-width="1" />
<line x1="522.26" y1="392.2" x2="522.26" y2="538.1" stroke="#d9d9d9" stroke-width="1" />
<line x1="530.72" y1="392.2" x2="530.72" y2="538.1" stroke="#d9d9d9" stroke-width="1" />
<line x1="538.05" y1="392.2" x2="538.05" y2="538.1" stroke="#d9d9d9" stroke-width="1" />
<line x1="544.52" y1="392.2" x2="544.52" y2="538.1" stroke="#d9d9d9" stroke-width="1" />
<line x1="588.35" y1="392.2" x2="588.35" y2="538.1" stroke="#d9d9d9" stroke-width="1" />
<line x1="610.61" y1="392.2" x2="610.61" y2="538.1" stroke="#d9d9d9" stroke-width="1" />
<line x1="626.4" y1="392.2" x2="626.4" y2="538.1" stroke="#d9d9d9" stroke-width="1" />
<line x1="638.65" y1="392.2" x2="638.65" y2="538.1" stroke="#d9d9d9" stroke-width="1" />
<line x1="648.66" y1="392.2" x2="648.66" y2="538.1" stroke="#d9d9d9" stroke-width="1" />
<line x1="657.12" y1="392.2" x2="657.12" y2="538.1" stroke="#d9d9d9" stroke-width="1" />
<line x1="664.45" y1="392.2" x2="664.45" y2="538.1" stroke="#d9d9d9" stroke-width="1" />
<line x1="670.92" y1="392.2" x2="670.92" y2="538.1" stroke="#d9d9d9" stroke-width="1" />
<line x1="423.9" y1="523.5" x2="676.7" y2="523.5" stroke="#dedede" stroke-width="1" />
<line x1="423.9" y1="514.96" x2="676.7" y2="514.96" stroke="#dedede" stroke-width="1" />
<line x1="423.9" y1="508.9" x2="676.7" y2="508.9" stroke="#dedede" stroke-width="1" />
<line x1="423.9" y1="504.2" x2="676.7" y2="504.2" stroke="#dedede" stroke-width="1" />
<line x1="423.9" y1="500.36" x2="676.7" y2="500.36" stroke="#dedede" stroke-width="1" />
<line x1="423.9" y1="497.11" x2="676.7" y2="497.11" stroke="#dedede" stroke-width="1" />
<line x1="423.9" y1="494.3" x2="676.7" y2="494.3" stroke="#dedede" stroke-width="1" />
<line x1="423.9" y1="491.82" x2="676.7" y2="491.82" stroke="#dedede" stroke-width="1" />
<line x1="423.9" y1="474.76" x2="676.7" y2="474.76" stroke="#dedede" stroke-width="1" />
<line x1="423.9" y1="466.08" x2="676.7" y2="466.08" stroke="#dedede" stroke-width="1" />
<line x1="423.9" y1="459.92" x2="676.7" y2="459.92" stroke="#dedede" stroke-width="1" />
<line x1="423.9" y1="455.14" x2="676.7" y2="455.14" stroke="#dedede" stroke-width="1" />
<line x1="423.9" y1="451.24" x2="676.7" y2="451.24" stroke="#dedede" stroke-width="1" />
<line x1="423.9" y1="447.94" x2="676.7" y2="447.94" stroke="#dedede" stroke-width="1" />
<line x1="423.9" y1="445.08" x2="676.7" y2="445.08" stroke="#dedede" stroke-width="1" />
<line x1="423.9" y1="442.56" x2="676.7" y2="442.56" stroke="#dedede" stroke-width="1" />
<line x1="423.9" y1="425.82" x2="676.7" y2="425.82" stroke="#dedede" stroke-width="1" />
<line x1="423.9" y1="417.35" x2="676.7" y2="417.35" stroke="#dedede" stroke-width="1" />
<line x1="423.9" y1="411.34" x2="676.7" y2="411.34" stroke="#dedede" stroke-width="1" />
<line x1="423.9" y1="406.68" x2="676.7" y2="406.68" stroke="#dedede" stroke-width="1" />
<line x1="423.9" y1="402.87" x2="676.7" y2="402.87" stroke="#dedede" stroke-width="1" />
<line x1="423.9" y1="399.65" x2="676.7" y2="399.65" stroke="#dedede" stroke-width="1" />
<line x1="423.9" y1="396.86" x2="676.7" y2="396.86" stroke="#dedede" stroke-width="1" />
<line x1="423.9" y1="394.4" x2="676.7" y2="394.4" stroke="#dedede" stroke-width="1" />
<line x1="550.3" y1="392.2" x2="550.3" y2="538.1" stroke="#a6a6a6" stroke-width="1" />
<line x1="423.9" y1="440.3" x2="676.7" y2="440.3" stroke="#a6a6a6" stroke-width="1" />
<line x1="423.9" y1="489.6" x2="676.7" y2="489.6" stroke="#a6a6a6" stroke-width="1" />
<rect x="458.8" y="489.4" width="76.7" height="48" fill="#fff"/>
<path d="M424.2,430.7 C425.1,430.7 428.07,430.12 429.6,430.7 C431.13,431.28 431.98,433.08 433.4,434.2 C434.82,435.32 436.83,436.93 438.1,437.4 C439.37,437.87 439.57,437.45 441,437 C442.43,436.55 444.97,435.43 446.7,434.7 C448.43,433.97 450.13,433.48 451.4,432.6 C452.67,431.72 453.35,430.57 454.3,429.4 C455.25,428.23 456,425.75 457.1,425.6 C458.2,425.45 459.47,427.55 460.9,428.5 C462.33,429.45 463.97,430.2 465.7,431.3 C467.43,432.4 469.57,435.42 471.3,435.1 C473.03,434.78 474.83,430.18 476.1,429.4 C477.37,428.62 477.48,431.18 478.9,430.4 C480.32,429.62 483.02,426.45 484.6,424.7 C486.18,422.95 487.28,420.38 488.4,419.9 C489.52,419.42 490.35,421.8 491.3,421.8 C492.25,421.8 493.15,420.05 494.1,419.9 C495.05,419.75 495.88,421.43 497,420.9 C498.12,420.37 499.53,417.02 500.8,416.7 C502.07,416.38 503.33,417.9 504.6,419 C505.87,420.1 507.13,422.92 508.4,423.3 C509.67,423.68 510.93,421.55 512.2,421.3 C513.47,421.05 514.9,420.6 516,421.8 C517.1,423 517.87,426.82 518.8,428.5 C519.73,430.18 520.5,431.5 521.6,431.9 C522.7,432.3 523.97,431.47 525.4,430.9 C526.83,430.33 528.45,429.28 530.2,428.5 C531.95,427.72 534.32,427.32 535.9,426.2 C537.48,425.08 538.43,422.85 539.7,421.8 C540.97,420.75 542.08,419.98 543.5,419.9 C544.92,419.82 546.97,420.68 548.2,421.3 C549.43,421.92 549.47,422.55 550.9,423.6 C552.33,424.65 554.83,426.12 556.8,427.6 C558.77,429.08 560.72,430.87 562.7,432.5 C564.68,434.13 566.72,435.43 568.7,437.4 C570.68,439.37 572.63,441.83 574.6,444.3 C576.57,446.77 578.53,449.57 580.5,452.2 C582.47,454.83 584.43,458.12 586.4,460.1 C588.37,462.08 590.17,463.12 592.3,464.1 C594.43,465.08 597.25,465.27 599.2,466 C601.15,466.73 602.52,467.67 604,468.5 C605.48,469.33 606.6,470.58 608.1,471 C609.6,471.42 611.2,470.58 613,471 C614.8,471.42 617.1,472.52 618.9,473.5 C620.7,474.48 621.67,475.57 623.8,476.9 C625.93,478.23 629.07,479.6 631.7,481.5 C634.33,483.4 636.97,486.52 639.6,488.3 C642.23,490.08 645.03,490.67 647.5,492.2 C649.97,493.73 652.1,495.95 654.4,497.5 C656.7,499.05 659.17,499.98 661.3,501.5 C663.43,503.02 665.23,504.88 667.2,506.6 C669.17,508.32 671.47,510.52 673.1,511.8 C674.73,513.08 676.35,513.88 677,514.3" fill="none" stroke="#262626" stroke-width="1.0" stroke-linejoin="round" stroke-linecap="round" />
<path d="M424.2,445 C424.78,444.93 426.48,444.57 427.7,444.6 C428.92,444.63 430.08,445.52 431.5,445.2 C432.92,444.88 434.78,443.43 436.2,442.7 C437.62,441.97 438.73,441.22 440,440.8 C441.27,440.38 442.68,439.88 443.8,440.2 C444.92,440.52 445.58,442.92 446.7,442.7 C447.82,442.48 448.92,439.53 450.5,438.9 C452.08,438.27 454.62,438.73 456.2,438.9 C457.78,439.07 458.73,440.53 460,439.9 C461.27,439.27 462.23,436.22 463.8,435.1 C465.37,433.98 467.52,433.67 469.4,433.2 C471.28,432.73 473.52,431.82 475.1,432.3 C476.68,432.78 477.32,436.1 478.9,436.1 C480.48,436.1 483.02,432.68 484.6,432.3 C486.18,431.92 486.97,433.23 488.4,433.8 C489.83,434.37 491.62,435.63 493.2,435.7 C494.78,435.77 496.32,435.15 497.9,434.2 C499.48,433.25 501.12,430.55 502.7,430 C504.28,429.45 505.67,430.58 507.4,430.9 C509.13,431.22 511.2,431.3 513.1,431.9 C515,432.5 516.9,434.75 518.8,434.5 C520.7,434.25 522.6,432.03 524.5,430.4 C526.4,428.77 528.3,426.92 530.2,424.7 C532.1,422.48 534.17,419.32 535.9,417.1 C537.63,414.88 539.02,412.52 540.6,411.4 C542.18,410.28 543.97,410.25 545.4,410.4 C546.83,410.55 548.28,411.9 549.2,412.3 C550.12,412.7 549.95,411.9 550.9,412.8 C551.85,413.7 553.42,415.73 554.9,417.7 C556.38,419.67 558.17,422.37 559.8,424.6 C561.43,426.83 562.9,428.97 564.7,431.1 C566.5,433.23 568.63,435.03 570.6,437.4 C572.57,439.77 574.53,442.67 576.5,445.3 C578.47,447.93 580.42,450.73 582.4,453.2 C584.38,455.67 586.1,458.28 588.4,460.1 C590.7,461.92 593.75,462.78 596.2,464.1 C598.65,465.42 601.12,466.8 603.1,468 C605.08,469.2 606.45,470.8 608.1,471.3 C609.75,471.8 611.2,470.57 613,471 C614.8,471.43 617.1,472.77 618.9,473.9 C620.7,475.03 621.67,476.32 623.8,477.8 C625.93,479.28 629.07,480.98 631.7,482.8 C634.33,484.62 636.97,487 639.6,488.7 C642.23,490.4 645.03,491.45 647.5,493 C649.97,494.55 652.1,496.58 654.4,498 C656.7,499.42 659.17,500.1 661.3,501.5 C663.43,502.9 665.23,504.75 667.2,506.4 C669.17,508.05 671.47,510.15 673.1,511.4 C674.73,512.65 676.35,513.48 677,513.9" fill="none" stroke="#ff0000" stroke-width="1.75" stroke-linejoin="round" stroke-linecap="round" />
<line x1="419.4" y1="392.2" x2="677.2" y2="392.2" stroke="#404040" stroke-width="1.1" />
<line x1="676.7" y1="392.2" x2="676.7" y2="538.1" stroke="#404040" stroke-width="1.1" />
<line x1="423.9" y1="392.2" x2="423.9" y2="543.1" stroke="#262626" stroke-width="1.1" />
<line x1="419.4" y1="538.1" x2="677.2" y2="538.1" stroke="#262626" stroke-width="1.3" />
<line x1="419.4" y1="538.1" x2="423.9" y2="538.1" stroke="#262626" stroke-width="1" />
<line x1="419.4" y1="489.6" x2="423.9" y2="489.6" stroke="#262626" stroke-width="1" />
<line x1="419.4" y1="440.3" x2="423.9" y2="440.3" stroke="#262626" stroke-width="1" />
<line x1="419.4" y1="392.2" x2="423.9" y2="392.2" stroke="#262626" stroke-width="1" />
<line x1="420.4" y1="523.5" x2="423.9" y2="523.5" stroke="#262626" stroke-width="1" />
<line x1="420.4" y1="514.96" x2="423.9" y2="514.96" stroke="#262626" stroke-width="1" />
<line x1="420.4" y1="508.9" x2="423.9" y2="508.9" stroke="#262626" stroke-width="1" />
<line x1="420.4" y1="504.2" x2="423.9" y2="504.2" stroke="#262626" stroke-width="1" />
<line x1="420.4" y1="500.36" x2="423.9" y2="500.36" stroke="#262626" stroke-width="1" />
<line x1="420.4" y1="497.11" x2="423.9" y2="497.11" stroke="#262626" stroke-width="1" />
<line x1="420.4" y1="494.3" x2="423.9" y2="494.3" stroke="#262626" stroke-width="1" />
<line x1="420.4" y1="491.82" x2="423.9" y2="491.82" stroke="#262626" stroke-width="1" />
<line x1="420.4" y1="474.76" x2="423.9" y2="474.76" stroke="#262626" stroke-width="1" />
<line x1="420.4" y1="466.08" x2="423.9" y2="466.08" stroke="#262626" stroke-width="1" />
<line x1="420.4" y1="459.92" x2="423.9" y2="459.92" stroke="#262626" stroke-width="1" />
<line x1="420.4" y1="455.14" x2="423.9" y2="455.14" stroke="#262626" stroke-width="1" />
<line x1="420.4" y1="451.24" x2="423.9" y2="451.24" stroke="#262626" stroke-width="1" />
<line x1="420.4" y1="447.94" x2="423.9" y2="447.94" stroke="#262626" stroke-width="1" />
<line x1="420.4" y1="445.08" x2="423.9" y2="445.08" stroke="#262626" stroke-width="1" />
<line x1="420.4" y1="442.56" x2="423.9" y2="442.56" stroke="#262626" stroke-width="1" />
<line x1="420.4" y1="425.82" x2="423.9" y2="425.82" stroke="#262626" stroke-width="1" />
<line x1="420.4" y1="417.35" x2="423.9" y2="417.35" stroke="#262626" stroke-width="1" />
<line x1="420.4" y1="411.34" x2="423.9" y2="411.34" stroke="#262626" stroke-width="1" />
<line x1="420.4" y1="406.68" x2="423.9" y2="406.68" stroke="#262626" stroke-width="1" />
<line x1="420.4" y1="402.87" x2="423.9" y2="402.87" stroke="#262626" stroke-width="1" />
<line x1="420.4" y1="399.65" x2="423.9" y2="399.65" stroke="#262626" stroke-width="1" />
<line x1="420.4" y1="396.86" x2="423.9" y2="396.86" stroke="#262626" stroke-width="1" />
<line x1="420.4" y1="394.4" x2="423.9" y2="394.4" stroke="#262626" stroke-width="1" />
<line x1="423.9" y1="538.1" x2="423.9" y2="543.1" stroke="#262626" stroke-width="1" />
<line x1="461.95" y1="538.1" x2="461.95" y2="542.1" stroke="#262626" stroke-width="1" />
<line x1="484.21" y1="538.1" x2="484.21" y2="542.1" stroke="#262626" stroke-width="1" />
<line x1="500" y1="538.1" x2="500" y2="542.1" stroke="#262626" stroke-width="1" />
<line x1="512.25" y1="538.1" x2="512.25" y2="542.1" stroke="#262626" stroke-width="1" />
<line x1="522.26" y1="538.1" x2="522.26" y2="542.1" stroke="#262626" stroke-width="1" />
<line x1="530.72" y1="538.1" x2="530.72" y2="542.1" stroke="#262626" stroke-width="1" />
<line x1="538.05" y1="538.1" x2="538.05" y2="542.1" stroke="#262626" stroke-width="1" />
<line x1="544.52" y1="538.1" x2="544.52" y2="542.1" stroke="#262626" stroke-width="1" />
<line x1="550.3" y1="538.1" x2="550.3" y2="543.1" stroke="#262626" stroke-width="1" />
<line x1="588.35" y1="538.1" x2="588.35" y2="542.1" stroke="#262626" stroke-width="1" />
<line x1="610.61" y1="538.1" x2="610.61" y2="542.1" stroke="#262626" stroke-width="1" />
<line x1="626.4" y1="538.1" x2="626.4" y2="542.1" stroke="#262626" stroke-width="1" />
<line x1="638.65" y1="538.1" x2="638.65" y2="542.1" stroke="#262626" stroke-width="1" />
<line x1="648.66" y1="538.1" x2="648.66" y2="542.1" stroke="#262626" stroke-width="1" />
<line x1="657.12" y1="538.1" x2="657.12" y2="542.1" stroke="#262626" stroke-width="1" />
<line x1="664.45" y1="538.1" x2="664.45" y2="542.1" stroke="#262626" stroke-width="1" />
<line x1="670.92" y1="538.1" x2="670.92" y2="542.1" stroke="#262626" stroke-width="1" />
<line x1="676.7" y1="538.1" x2="676.7" y2="543.1" stroke="#262626" stroke-width="1" />
<line x1="427.2" y1="504.3" x2="454.5" y2="504.3" stroke="#000" stroke-width="2" />
<line x1="427.2" y1="525.1" x2="454.5" y2="525.1" stroke="#ff0000" stroke-width="2" />
<text x="459.2" y="507.8" font-family="'Liberation Sans', sans-serif" font-size="14.5" text-anchor="start" font-weight="normal" >Observed</text>
<text x="460.9" y="529.7" font-family="'Liberation Sans', sans-serif" font-size="14" text-anchor="start" font-weight="normal" >Analyzed</text>
<text x="411.2" y="397.2" font-family="'Liberation Serif', serif" font-size="15" text-anchor="end" font-weight="normal" >1.E+04</text>
<text x="411.2" y="445.3" font-family="'Liberation Serif', serif" font-size="15" text-anchor="end" font-weight="normal" >1.E+03</text>
<text x="411.2" y="494.6" font-family="'Liberation Serif', serif" font-size="15" text-anchor="end" font-weight="normal" >1.E+02</text>
<text x="411.2" y="543.1" font-family="'Liberation Serif', serif" font-size="15" text-anchor="end" font-weight="normal" >1.E+01</text>
<text x="0" y="0" font-family="'Liberation Serif', serif" font-size="14.5" text-anchor="middle" font-weight="normal" transform="translate(423.9 562.3) scale(1 1.13)">0.1</text>
<text x="0" y="0" font-family="'Liberation Serif', serif" font-size="14.5" text-anchor="middle" font-weight="normal" transform="translate(550.3 562.3) scale(1 1.13)">1</text>
<text x="0" y="0" font-family="'Liberation Serif', serif" font-size="14.5" text-anchor="middle" font-weight="normal" transform="translate(677.7 562.3) scale(1 1.13)">10</text>
<text x="12" y="460.8" font-family="'Liberation Serif', serif" font-size="17.6" text-anchor="middle" font-weight="normal" transform="rotate(-90 12.0 460.8)">Acceleration (Gal)</text>
<text x="363" y="463" font-family="'Liberation Serif', serif" font-size="17.6" text-anchor="middle" font-weight="normal" transform="rotate(-90 363.0 463)">Acceleration (Gal)</text>
<text x="198.1" y="581.6" font-family="'Liberation Serif', serif" font-size="17.6" text-anchor="middle" font-weight="normal" >Period (s)</text>
<text x="550.5" y="582.6" font-family="'Liberation Serif', serif" font-size="17.6" text-anchor="middle" font-weight="normal" >Period (s)</text>
<text x="195.4" y="603.9" font-family="'Liberation Serif', serif" font-size="17" text-anchor="middle" font-weight="normal" >(i) R-O model</text>
<text x="548" y="608.4" font-family="'Liberation Serif', serif" font-size="17" text-anchor="middle" font-weight="normal" >(ii) GHE model</text>
<text x="229.3" y="630.5" font-family="'Liberation Serif', serif" font-size="17.3" text-anchor="start" font-weight="normal" >(b) Response spectra (<tspan font-style="italic">h</tspan>= 5%)</text>
</svg>
</body></html>
